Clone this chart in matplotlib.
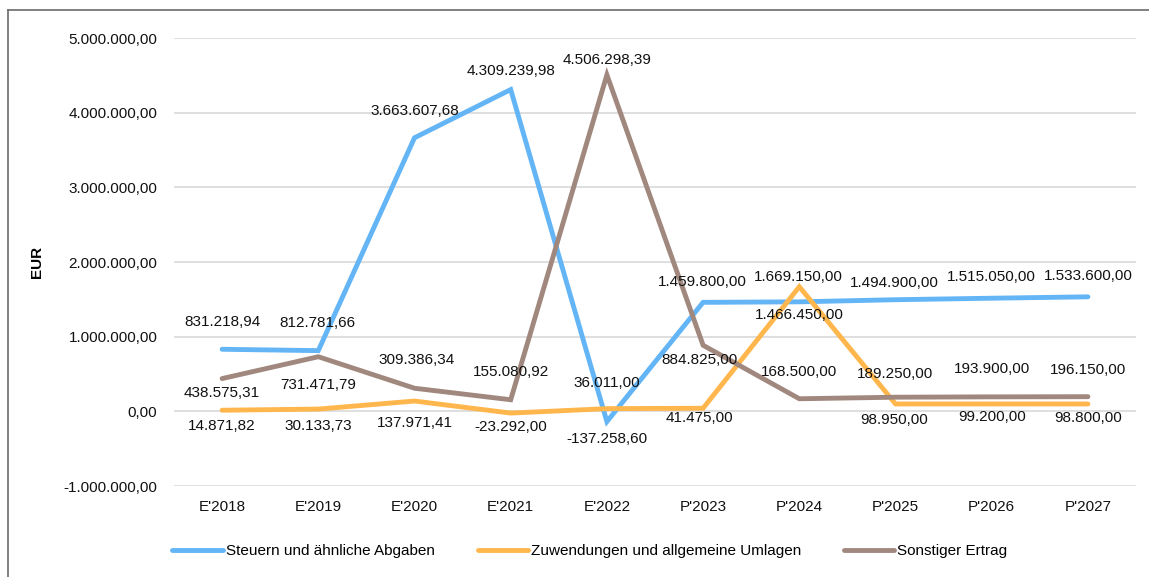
import matplotlib
matplotlib.use("Agg")
import matplotlib.pyplot as plt
from matplotlib.lines import Line2D

plt.rcParams['font.family'] = ['Liberation Sans', 'DejaVu Sans']

# data
years = ["E'2018", "E'2019", "E'2020", "E'2021", "E'2022",
         "P'2023", "P'2024", "P'2025", "P'2026", "P'2027"]
steuern = [831218.94, 812781.66, 3663607.68, 4309239.98, -137258.60,
           1459800.00, 1466450.00, 1494900.00, 1515050.00, 1533600.00]
zuwendungen = [14871.82, 30133.73, 137971.41, -23292.00, 36011.00,
               41475.00, 1669150.00, 98950.00, 99200.00, 98800.00]
sonstiger = [438575.31, 731471.79, 309386.34, 155080.92, 4506298.39,
             884825.00, 168500.00, 189250.00, 193900.00, 196150.00]
names = ["Steuern und ähnliche Abgaben", "Zuwendungen und allgemeine Umlagen",
         "Sonstiger Ertrag"]
yticks = [-1000000, 0, 1000000, 2000000, 3000000, 4000000, 5000000]

colors = ["#64B5F6", "#FFB74D", "#A1887F"]

# label offsets in pixels (dx, dy up)
off_st = [(0, 27), (-1, 28), (0, 27), (0, 19), (0, -17),
          (-1, 20), (0, -13), (-1, 17), (0, 21), (0, 21)]
off_zu = [(0, -16), (0, -17), (0, -22), (0, -14), (0, 26),
          (-4, -10), (-1, 10), (-1, -16), (0, -13), (0, -14)]
off_so = [(0, -14), (0, -28), (2, 28), (0, 28), (0, 15),
          (-4, -15), (0, 27), (0, 23), (0, 28), (0, 27)]

FS = 11


def fmt(v):
    s = "{:,.2f}".format(v)
    return s.replace(",", "X").replace(".", ",").replace("X", ".")


fig = plt.figure(figsize=(11.49, 5.77), dpi=100)
ax = fig.add_axes([174 / 1149, 1 - 486 / 577, (1136 - 174) / 1149, (486 - 38) / 577])

x = list(range(len(years)))
series = [steuern, zuwendungen, sonstiger]
offsets = [off_st, off_zu, off_so]
for vals, col in zip(series, colors):
    ax.plot(x, vals, color=col, lw=3.5, solid_capstyle='round', solid_joinstyle='miter', zorder=3)
for vals, offs in zip(series, offsets):
    for i, v in enumerate(vals):
        ax.annotate(fmt(v), (i, v), xytext=(offs[i][0] * 0.72, offs[i][1] * 0.72),
                    textcoords='offset points', ha='center', va='center',
                    fontsize=FS, color='#111111', zorder=4)

ax.set_xlim(-0.5, len(years) - 0.5)
ax.set_ylim(-1000000, 5000000)
ax.set_yticks(yticks)
ax.set_yticklabels([fmt(t) for t in yticks])
ax.set_xticks(x)
ax.set_xticklabels(years)
ax.tick_params(axis='both', length=0, labelsize=FS, colors='#111111')
ax.tick_params(axis='y', pad=12)
ax.tick_params(axis='x', pad=10)
ax.grid(axis='y', color='#D9D9D9', lw=1.2)
ax.set_axisbelow(True)
for s in ax.spines.values():
    s.set_visible(False)

fig.text(37 / 1149, 1 - 262 / 577, "EUR", rotation=90, ha='center', va='center',
         fontsize=FS, fontweight='bold')

handles = [Line2D([], [], color=c, lw=3.5, solid_capstyle='round') for c in colors]
fig.legend(handles, names, loc='center', bbox_to_anchor=(590 / 1149, 1 - 551 / 577),
           ncol=3, frameon=False, fontsize=FS, handlelength=3.3, handletextpad=0.2,
           columnspacing=2.8)

# outer chart border (left and top)
fig.add_artist(Line2D([8 / 1149, 8 / 1149], [0, 1 - 10 / 577], color='#6b6b6b', lw=1.2,
                      transform=fig.transFigure))
fig.add_artist(Line2D([8 / 1149, 1], [1 - 10 / 577, 1 - 10 / 577], color='#6b6b6b', lw=1.2,
                      transform=fig.transFigure))

fig.savefig("out.png", dpi=100)
